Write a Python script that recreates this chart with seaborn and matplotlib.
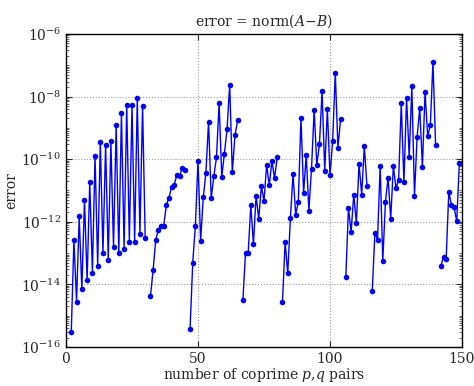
import numpy as np
import pandas as pd
import matplotlib
matplotlib.use("Agg")
import matplotlib.pyplot as plt
import matplotlib.ticker as mticker
import seaborn as sns

# number of coprime p,q pairs (x) and log10 of the error, None = missing
n_pairs = np.arange(2, 151)
log_error = [
    -15.51, -12.59, -14.55, -11.83, -14.15, -11.30, -13.87, -10.72, -13.62, -9.90,
    -13.40, -9.44, -13.00, -9.54, -13.21, -9.43, -12.82, -8.91, -13.00, -8.53,
    -12.86, -8.27, -12.64, -8.26, -12.64, -8.06, -12.39, -8.29, -12.53,
    None,
    -14.38, -13.53, -12.58, -12.25, -12.15, -12.13, -11.47, -11.23, -10.88, -10.81,
    -10.50, -10.54, -10.29, -10.35,
    None,
    -15.41, -13.31, -12.14, -10.05, -12.60, -11.22, -10.43, -8.80, -11.24, -10.55,
    -9.94, -8.21, -10.57, -9.82, -9.04, -7.62, -10.41, -9.24, -8.76,
    None,
    -14.50, -12.99, -13.01, -11.47, -12.71, -11.17, -11.90, -10.87, -11.33, -10.18,
    -10.83, -10.06, -10.61, -9.93,
    None,
    -14.57, -12.64, -13.65, -11.87, -10.48, -11.77, -11.36, -8.67, -11.08, -9.86,
    -11.64, -10.30, -8.43, -10.18, -9.53, -7.82, -10.37, -8.40, -10.52, -9.42,
    -7.24, -9.63, -8.73,
    None,
    -13.75, -11.55, -12.33, -11.13, -12.04, -10.14, -11.13, -9.59, -10.85,
    None,
    -14.22, -12.36, -12.57, -10.22, -13.25, -11.36, -10.59, -11.90, -10.22, -10.93,
    -10.65, -8.21, -10.74, -8.04, -9.93, -7.67, -11.16, -9.28, -8.36, -10.26,
    -7.85, -9.26, -8.92, -6.89, -9.56,
    None,
    -13.42, -13.11, -13.20, -11.04, -11.47, -11.54, -11.98, -10.12, -10.11,
]

df = pd.DataFrame({"pairs": n_pairs, "logerr": np.array(log_error, dtype=float)})
df["segment"] = df["logerr"].isna().cumsum()
df["error"] = 10.0 ** df["logerr"]
df = df.dropna()

sns.set_style("ticks")
plt.rcParams["font.family"] = ["DejaVu Serif"]
plt.rcParams["mathtext.fontset"] = "dejavuserif"

fig = plt.figure(figsize=(4.74, 3.86), dpi=100)
ax = fig.add_axes([66 / 474, 1 - 347 / 386, 396 / 474, 313 / 386])

sns.lineplot(data=df, x="pairs", y="error", units="segment", estimator=None,
             color="#0000ff", marker="o", markersize=4, markeredgewidth=0,
             linewidth=1.0, ax=ax)

ax.set_yscale("log")
ax.set_xlim(0, 150)
ax.set_ylim(1e-16, 1e-6)
ax.set_xticks([0, 50, 100, 150])
ax.yaxis.set_major_locator(mticker.FixedLocator([10.0 ** k for k in range(-16, -5, 2)]))
ax.yaxis.set_major_formatter(mticker.LogFormatterSciNotation())
ax.yaxis.set_minor_locator(mticker.LogLocator(base=10, subs=np.arange(1, 10), numticks=100))
ax.yaxis.set_minor_formatter(mticker.NullFormatter())

ax.grid(True, which="major", linestyle=":", color="#999999", linewidth=0.8)
ax.tick_params(direction="in", top=True, right=True, labelsize=10, length=4, width=0.8)
ax.tick_params(which="minor", direction="in", right=True, left=True, length=2, width=0.5)
for s in ax.spines.values():
    s.set_linewidth(1.0)
    s.set_color("black")

ax.set_title(r"error = norm($A$$-$$B$)", fontsize=10, pad=6)
ax.set_xlabel(r"number of coprime $p$,$q$ pairs", fontsize=10, labelpad=0)
ax.set_ylabel("error", fontsize=10, labelpad=2)

fig.savefig("out.png", dpi=100)
